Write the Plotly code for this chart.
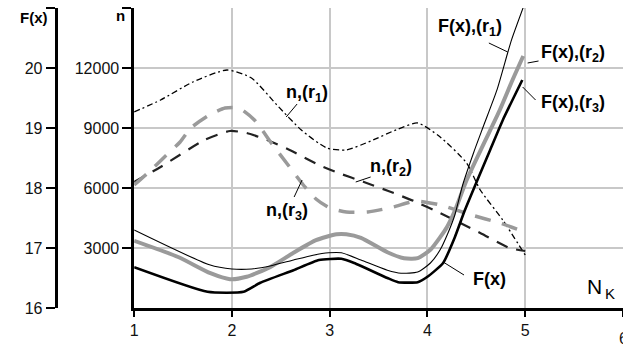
import plotly.graph_objects as go

# ---- data ----
x_n1 = [1.00, 1.27, 1.60, 1.95, 2.20, 2.46, 2.71, 2.97, 3.17, 3.42, 3.70, 3.90, 4.13, 4.40, 4.54, 4.77, 5.00]
n_r1 = [9800, 10400, 11300, 11900, 11500, 10150, 8900, 8000, 7900, 8350, 8950, 9250, 8550, 7250, 5900, 4400, 2650]

x_n2 = [1.00, 1.27, 1.72, 1.98, 2.15, 2.36, 2.59, 2.89, 3.09, 3.35, 3.60, 3.86, 4.13, 4.54, 4.84, 5.00]
n_r2 = [6300, 7050, 8400, 8850, 8750, 8400, 7900, 7150, 6750, 6300, 5850, 5350, 4750, 3750, 3000, 2850]

x_n3 = [1.00, 1.14, 1.31, 1.47, 1.58, 1.77, 1.93, 2.07, 2.23, 2.41, 2.59, 2.73, 2.86, 3.00, 3.17, 3.39, 3.65, 3.88, 4.13, 4.45, 4.74, 5.00]
n_r3 = [6150, 6750, 7550, 8300, 9000, 9650, 10000, 10000, 9400, 8200, 7050, 6150, 5450, 5000, 4800, 4800, 5050, 5350, 5150, 4650, 4250, 3800]

x_f1 = [1.00, 1.77, 2.00, 2.20, 2.39, 2.63, 2.83, 2.99, 3.12, 3.32, 3.59, 3.73, 3.90, 4.03, 4.13, 4.21, 4.28, 4.36, 4.47, 4.57, 4.71, 4.82, 4.86, 5.00]
f_r1 = [17.30, 16.72, 16.65, 16.65, 16.70, 16.80, 16.88, 16.92, 16.92, 16.80, 16.63, 16.58, 16.60, 16.75, 16.97, 17.25, 17.55, 18.05, 18.58, 19.02, 19.63, 20.25, 20.47, 21.10]

x_f2 = [1.00, 1.45, 1.78, 1.98, 2.15, 2.39, 2.63, 2.86, 3.07, 3.17, 3.32, 3.59, 3.76, 3.90, 4.03, 4.13, 4.20, 4.28, 4.40, 4.57, 4.74, 4.87, 4.98]
f_r2 = [17.12, 16.85, 16.58, 16.48, 16.52, 16.68, 16.92, 17.13, 17.23, 17.23, 17.17, 16.93, 16.83, 16.83, 16.97, 17.18, 17.35, 17.62, 18.13, 18.72, 19.30, 19.80, 20.20]

x_f3 = [1.00, 1.75, 2.12, 2.29, 2.63, 2.89, 3.12, 3.25, 3.59, 3.70, 3.90, 4.00, 4.16, 4.28, 4.38, 4.51, 4.64, 4.77, 4.97]
f_r3 = [16.68, 16.27, 16.27, 16.42, 16.63, 16.80, 16.82, 16.75, 16.50, 16.43, 16.43, 16.52, 16.75, 17.18, 17.62, 18.13, 18.63, 19.13, 19.80]

x_ticks = [1, 2, 3, 4, 5, 6]
x_ticktext = ["1", "2", "3", "4", "5", "6"]
n_ticks = [3000, 6000, 9000, 12000, 15000]
n_ticktext = ["3000", "6000", "9000", "12000", ""]
f_ticks = [16, 17, 18, 19, 20, 21]
f_ticktext = ["16", "17", "18", "19", "20", ""]

# ---- geometry ----
W, H = 623, 347
ML, MR, MT, MB = 0, 0, 8, 39
PH = H - MT - MB


def px(xp):
    return xp / W


def py(yp):
    return (H - MB - yp) / PH


FONT = "Liberation Sans, Arial, sans-serif"
GRAY = "#9a9a9a"

fig = go.Figure()

fig.add_trace(go.Scatter(x=x_n1, y=n_r1, mode="lines", yaxis="y",
                         line=dict(color="black", width=1.3, dash="6px,3px,2px,3px", shape="spline", smoothing=0.6)))
fig.add_trace(go.Scatter(x=x_n2, y=n_r2, mode="lines", yaxis="y",
                         line=dict(color="#222", width=2.2, dash="12px,9px", shape="spline", smoothing=0.6)))
fig.add_trace(go.Scatter(x=x_n3, y=n_r3, mode="lines", yaxis="y",
                         line=dict(color=GRAY, width=3.5, dash="16px,12px", shape="spline", smoothing=0.6)))
fig.add_trace(go.Scatter(x=x_f2, y=f_r2, mode="lines", yaxis="y2",
                         line=dict(color=GRAY, width=4, shape="spline", smoothing=0.6)))
fig.add_trace(go.Scatter(x=x_f1, y=f_r1, mode="lines", yaxis="y2",
                         line=dict(color="black", width=1.1, shape="spline", smoothing=0.6)))
fig.add_trace(go.Scatter(x=x_f3, y=f_r3, mode="lines", yaxis="y2",
                         line=dict(color="black", width=2.6, shape="spline", smoothing=0.5)))

tickfont = dict(family=FONT, size=16, color="#111")

fig.update_layout(
    width=W, height=H,
    margin=dict(l=ML, r=MR, t=MT, b=MB, pad=0),
    paper_bgcolor="white", plot_bgcolor="white",
    showlegend=False,
    xaxis=dict(domain=[131 / W, 1], range=[1, 6], tickvals=x_ticks, ticktext=x_ticktext,
               showgrid=True, gridcolor="#c8c8c8", gridwidth=1.5, zeroline=False,
               showline=True, linecolor="black", linewidth=3,
               ticks="outside", ticklen=6, tickwidth=1.5, tickcolor="black",
               tickfont=tickfont),
    yaxis=dict(range=[0, 15000], tickvals=n_ticks, ticktext=n_ticktext, anchor="x",
               showgrid=True, gridcolor="#c8c8c8", gridwidth=1.5, zeroline=False,
               showline=True, linecolor="black", linewidth=2.5,
               ticks="outside", ticklen=9, tickwidth=1.5, tickcolor="black",
               tickfont=tickfont),
    yaxis2=dict(range=[16, 21], tickvals=f_ticks, ticktext=f_ticktext, overlaying="y",
                anchor="free", position=52 / W, side="left",
                showgrid=False, zeroline=False,
                showline=True, linecolor="black", linewidth=3,
                ticks="outside", ticklen=9, tickwidth=1.5, tickcolor="black",
                tickfont=tickfont),
)

labels = [
    ("<b>F(x)</b>", 30, 17, 15),
    ("<b>n</b>", 117, 16, 15),
    ("<b>n,(r<sub>1</sub>)</b>", 305, 93, 18),
    ("<b>n,(r<sub>2</sub>)</b>", 390, 167, 18),
    ("<b>n,(r<sub>3</sub>)</b>", 285, 211, 18),
    ("<b>F(x),(r<sub>1</sub>)</b>", 469, 27, 18),
    ("<b>F(x),(r<sub>2</sub>)</b>", 573, 53, 18),
    ("<b>F(x),(r<sub>3</sub>)</b>", 573, 103, 18),
    ("<b>F(x)</b>", 489, 279, 18),
    ("N", 594, 286, 21),
    ("K", 610, 293, 15),
]
for txt, x0, y0, fs in labels:
    fig.add_annotation(text=txt, x=px(x0), y=py(y0), xref="paper", yref="paper",
                       showarrow=False, xanchor="center", yanchor="middle",
                       font=dict(family=FONT, size=fs, color="black"))

# partially visible last x tick label at the right edge
fig.add_annotation(text=x_ticktext[-1], x=px(624), y=py(338), xref="paper", yref="paper",
                   showarrow=False, xanchor="center", yanchor="middle",
                   font=tickfont)

leaders = [
    (295, 104, 284, 117),
    (369, 177, 354, 182),
    (292, 197, 300, 180),
    (488, 43, 507, 52),
    (538, 61, 527, 63),
    (535, 100, 522, 87),
    (463, 275, 442, 262),
]
for x0, y0, x1, y1 in leaders:
    fig.add_shape(type="line", xref="paper", yref="paper",
                  x0=px(x0), y0=py(y0), x1=px(x1), y1=py(y1),
                  line=dict(color="black", width=1))

fig.write_html("out.html", config={"displayModeBar": False},
               post_script="document.body.style.margin='0px';document.body.style.overflow='hidden';")
